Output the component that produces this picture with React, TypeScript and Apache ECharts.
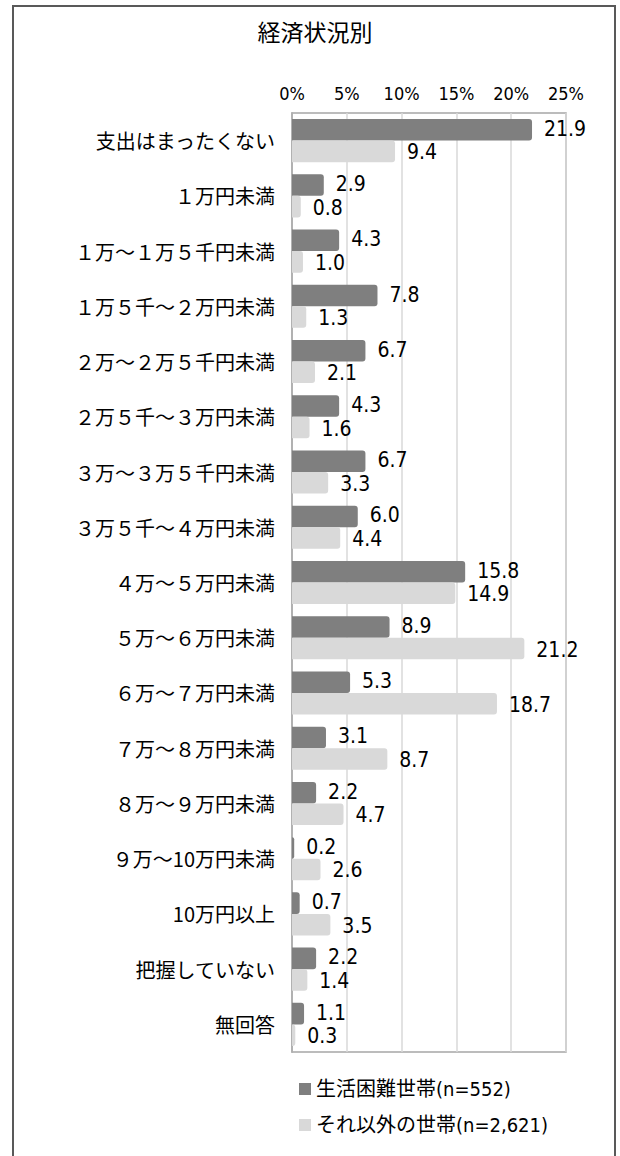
import React, { useEffect, useRef } from "react";
import * as echarts from "echarts";

const title = "経済状況別";
const categories = [
  "支出はまったくない",
  "１万円未満",
  "１万～１万５千円未満",
  "１万５千～２万円未満",
  "２万～２万５千円未満",
  "２万５千～３万円未満",
  "３万～３万５千円未満",
  "３万５千～４万円未満",
  "４万～５万円未満",
  "５万～６万円未満",
  "６万～７万円未満",
  "７万～８万円未満",
  "８万～９万円未満",
  "９万～10万円未満",
  "10万円以上",
  "把握していない",
  "無回答",
];
const seriesNames = ["生活困難世帯(n=552)", "それ以外の世帯(n=2,621)"];
const hardship = [21.9, 2.9, 4.3, 7.8, 6.7, 4.3, 6.7, 6.0, 15.8, 8.9, 5.3, 3.1, 2.2, 0.2, 0.7, 2.2, 1.1];
const others = [9.4, 0.8, 1.0, 1.3, 2.1, 1.6, 3.3, 4.4, 14.9, 21.2, 18.7, 8.7, 4.7, 2.6, 3.5, 1.4, 0.3];
const axisMin = 0;
const axisMax = 25;
const axisStep = 5;

const NARROW = "'Liberation Sans Narrow', 'DejaVu Sans Condensed', 'Liberation Sans', 'Noto Sans CJK JP', sans-serif";
const CJK = "'Noto Sans CJK JP', sans-serif";

export default function App() {
  const ref = useRef<HTMLDivElement>(null);
  useEffect(() => {
    document.body.style.margin = "0";
    const chart = echarts.init(ref.current!, undefined, { renderer: "svg" });
    const labelCfg = (dy: number) => ({
      show: true,
      position: "right",
      distance: 12,
      offset: [0, dy],
      fontSize: 21,
      lineHeight: 20,
      fontFamily: NARROW,
      color: "#000",
      formatter: (p: any) => Number(p.value).toFixed(1),
    });
    chart.setOption({
      animation: false,
      backgroundColor: "#fff",
      graphic: [
        {
          type: "rect",
          shape: { x: 13, y: 6, width: 602, height: 1200 },
          style: { fill: "none", stroke: "#595959", lineWidth: 2 },
          silent: true,
        },
        {
          type: "text",
          x: 315,
          y: 31,
          style: {
            text: title,
            fontSize: 23,
            fontFamily: CJK,
            fill: "#000",
            textAlign: "center",
            textVerticalAlign: "middle",
          },
        },
      ],
      grid: {
        left: 292,
        right: 54,
        top: 113,
        bottom: 104,
        show: true,
        borderColor: "#a6a6a6",
        borderWidth: 1.5,
        containLabel: false,
      },
      legend: {
        orient: "vertical",
        left: 294,
        top: 1074,
        itemWidth: 12,
        itemHeight: 12,
        itemGap: 16,
        icon: "rect",
        textStyle: { fontSize: 20, fontFamily: NARROW, color: "#000" },
        data: seriesNames,
      },
      xAxis: {
        type: "value",
        position: "top",
        min: axisMin,
        max: axisMax,
        interval: axisStep,
        axisLine: { show: false },
        axisTick: { show: false },
        axisLabel: {
          formatter: "{value}%",
          fontSize: 18,
          fontFamily: NARROW,
          color: "#000",
          margin: 11,
        },
        splitLine: { show: true, lineStyle: { color: "#d9d9d9", width: 1.5 } },
      },
      yAxis: {
        type: "category",
        data: categories,
        inverse: true,
        axisLine: { show: true, lineStyle: { color: "#a6a6a6", width: 1.5 } },
        axisTick: { show: false },
        axisLabel: { fontSize: 20, fontFamily: CJK, color: "#000", margin: 17 },
      },
      series: [
        {
          name: seriesNames[0],
          type: "bar",
          data: hardship,
          barGap: "0%",
          barCategoryGap: "22%",
          itemStyle: { color: "#7f7f7f", borderRadius: [0, 3, 3, 0] },
          label: labelCfg(-1),
        },
        {
          name: seriesNames[1],
          type: "bar",
          data: others,
          barGap: "0%",
          barCategoryGap: "22%",
          itemStyle: { color: "#d9d9d9", borderRadius: [0, 3, 3, 0] },
          label: labelCfg(1),
        },
      ],
    });
    return () => chart.dispose();
  }, []);
  return <div ref={ref} style={{ width: 620, height: 1156 }} />;
}
